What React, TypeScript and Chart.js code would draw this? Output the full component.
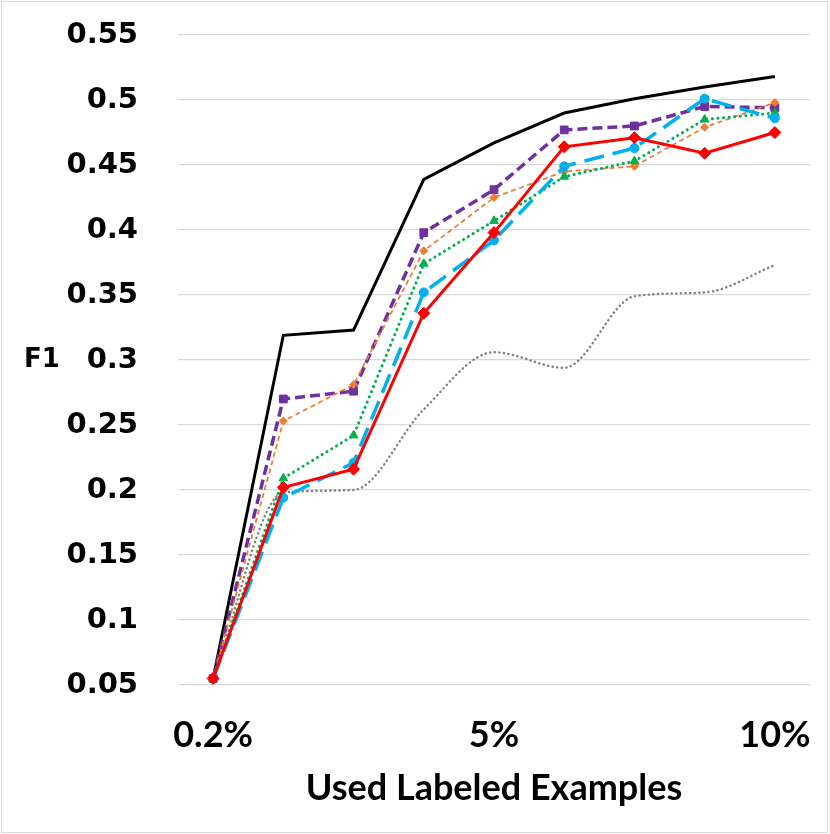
import React, { useEffect, useRef } from "react";
import { Chart, registerables } from "chart.js";

Chart.register(...registerables);

const categories = ["0.2%", "", "", "", "5%", "", "", "", "10%"];
const blackSeries = [0.055, 0.319, 0.323, 0.439, 0.467, 0.49, 0.501, 0.51, 0.518];
const purpleSeries = [0.055, 0.27, 0.276, 0.398, 0.431, 0.477, 0.48, 0.495, 0.494];
const orangeSeries = [0.055, 0.253, 0.281, 0.384, 0.425, 0.445, 0.449, 0.479, 0.498];
const greenSeries = [0.055, 0.209, 0.242, 0.374, 0.407, 0.441, 0.453, 0.485, 0.49];
const cyanSeries = [0.055, 0.194, 0.221, 0.352, 0.392, 0.449, 0.463, 0.501, 0.486];
const redSeries = [0.055, 0.202, 0.216, 0.336, 0.398, 0.464, 0.471, 0.459, 0.475];
const graySeries = [0.055, 0.198, 0.2, 0.262, 0.306, 0.294, 0.349, 0.352, 0.373];
const yMin = 0.05;
const yMax = 0.55;
const yStep = 0.05;
const yTitle = "F1";
const xTitle = "Used Labeled Examples";

const decorPlugin = {
  id: "decor",
  beforeDraw(chart: any) {
    const { ctx, width, height } = chart;
    ctx.save();
    ctx.fillStyle = "#ffffff";
    ctx.fillRect(0, 0, width, height);
    ctx.strokeStyle = "#d9d9d9";
    ctx.lineWidth = 1;
    ctx.strokeRect(1.5, 1.5, width - 4, height - 3);
    ctx.restore();
  },
  afterDraw(chart: any) {
    const { ctx, chartArea } = chart;
    ctx.save();
    ctx.fillStyle = "#000000";
    ctx.font = "bold 26px 'DejaVu Sans'";
    ctx.textAlign = "center";
    ctx.textBaseline = "middle";
    ctx.fillText(yTitle, 42, (chartArea.top + chartArea.bottom) / 2);
    ctx.restore();
  },
};

export default function App() {
  const ref = useRef<HTMLCanvasElement | null>(null);

  useEffect(() => {
    document.body.style.margin = "0";
    if (!ref.current) return;
    const chart = new Chart(ref.current, {
      type: "line",
      data: {
        labels: categories,
        datasets: [
          {
            label: "red",
            data: redSeries,
            borderColor: "#ff0000",
            backgroundColor: "#ff0000",
            borderWidth: 3,
            pointStyle: "rectRot",
            pointRadius: 6,
            pointBorderWidth: 1,
            tension: 0,
          },
          {
            label: "cyan",
            data: cyanSeries,
            borderColor: "#00b0f0",
            backgroundColor: "#00b0f0",
            borderWidth: 3.5,
            borderDash: [20, 9],
            pointStyle: "circle",
            pointRadius: 4.5,
            pointBorderWidth: 1,
            tension: 0,
          },
          {
            label: "green",
            data: greenSeries,
            borderColor: "#00b050",
            backgroundColor: "#00b050",
            borderWidth: 3,
            borderDash: [0.1, 5.5],
            borderCapStyle: "round",
            pointStyle: "triangle",
            pointRadius: 5,
            pointBorderWidth: 1,
            tension: 0,
          },
          {
            label: "orange",
            data: orangeSeries,
            borderColor: "#ed7d31",
            backgroundColor: "#ed7d31",
            borderWidth: 1.75,
            borderDash: [5, 3.5],
            pointStyle: "rectRot",
            pointRadius: 4,
            pointBorderWidth: 1,
            tension: 0,
          },
          {
            label: "purple",
            data: purpleSeries,
            borderColor: "#7030a0",
            backgroundColor: "#7030a0",
            borderWidth: 3.5,
            borderDash: [10, 5],
            pointStyle: "rect",
            pointRadius: 5.5,
            pointBorderWidth: 1,
            tension: 0,
          },
          {
            label: "black",
            data: blackSeries,
            borderColor: "#000000",
            backgroundColor: "#000000",
            borderWidth: 3,
            pointRadius: 0,
            tension: 0,
          },
          {
            label: "gray",
            data: graySeries,
            borderColor: "#7f7f7f",
            backgroundColor: "#7f7f7f",
            borderWidth: 2.5,
            borderDash: [0.1, 4.5],
            borderCapStyle: "round",
            pointRadius: 0,
            cubicInterpolationMode: "monotone",
          },
        ],
      },
      options: {
        animation: false,
        responsive: false,
        layout: { padding: { top: 35, right: 20, bottom: 0, left: 0 } },
        plugins: {
          legend: { display: false },
          tooltip: { enabled: false },
        },
        scales: {
          x: {
            type: "category",
            offset: true,
            grid: { display: false, drawTicks: false },
            border: { display: false },
            ticks: {
              color: "#000000",
              font: { family: "Lato", weight: "bold", size: 36 },
              padding: 29,
              maxRotation: 0,
              autoSkip: false,
            },
            title: {
              display: true,
              text: xTitle,
              color: "#000000",
              font: { family: "Lato", weight: "bold", size: 36 },
              padding: { top: 0, bottom: 24 },
            },
            afterFit(scale: any) {
              scale.height = 149;
              scale.paddingLeft = 0;
              scale.paddingRight = 0;
            },
          },
          y: {
            min: yMin,
            max: yMax,
            grid: { color: "#d9d9d9", lineWidth: 1.25, drawTicks: false },
            border: { display: false },
            ticks: {
              stepSize: yStep,
              color: "#000000",
              font: { family: "DejaVu Sans", weight: "bold", size: 29 },
              padding: 40,
              callback: (v: any) => String(Number(Number(v).toFixed(2))),
            },
            afterFit(scale: any) {
              scale.width = 178;
              scale.paddingTop = 0;
              scale.paddingBottom = 0;
            },
          },
        },
      },
      plugins: [decorPlugin],
    } as any);
    return () => chart.destroy();
  }, []);

  return (
    <div style={{ width: 830, height: 834 }}>
      <canvas ref={ref} width={830} height={834} style={{ display: "block" }} />
    </div>
  );
}
